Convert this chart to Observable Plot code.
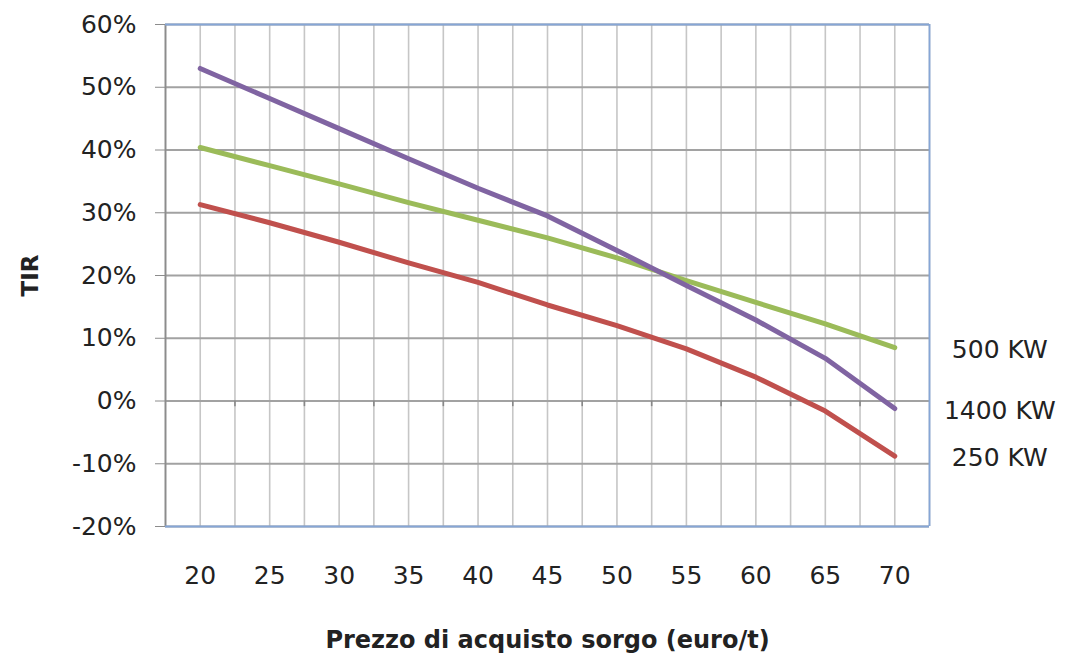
<!DOCTYPE html>
<html>
<head>
<meta charset="utf-8">
<script src="https://cdn.jsdelivr.net/npm/d3@7"></script>
<script src="https://cdn.jsdelivr.net/npm/@observablehq/plot@0.6"></script>
<style>
  html, body { margin: 0; padding: 0; background: #fff; }
</style>
</head>
<body>
<div id="chart"></div>
<script>
// Data (TIR %, by sorghum purchase price euro/t)
const prices = [20, 25, 30, 35, 40, 45, 50, 55, 60, 65, 70];
const kw250  = [31.3, 28.4, 25.3, 22.0, 18.9, 15.3, 12.0, 8.3, 3.8, -1.6, -8.8];
const kw500  = [40.4, 37.5, 34.6, 31.6, 28.8, 26.0, 22.8, 19.2, 15.7, 12.3, 8.5];
const kw1400 = [53.0, 48.2, 43.4, 38.6, 33.9, 29.5, 24.0, 18.4, 12.9, 6.8, -1.2];
const seriesNames = ["250 KW", "500 KW", "1400 KW"];
const seriesColors = ["#C0504D", "#9BBB59", "#8064A2"];
const yTicks = [-20, -10, 0, 10, 20, 30, 40, 50, 60];
const xTicks = [20, 25, 30, 35, 40, 45, 50, 55, 60, 65, 70];
const xGrid = d3.range(17.5, 72.6, 2.5);
const xMinor = d3.range(22.5, 70, 5);
const xTitle = "Prezzo di acquisto sorgo (euro/t)";
const yTitle = "TIR";

const seriesValues = [kw250, kw500, kw1400];
const rows = [];
seriesNames.forEach((name, i) => {
  prices.forEach((p, j) => rows.push({series: name, price: p, tir: seriesValues[i][j]}));
});
const lastRows = seriesNames.map((name, i) => ({series: name, price: prices[prices.length - 1], tir: seriesValues[i][prices.length - 1]}));

const font = "DejaVu Sans";
const chart = Plot.plot({
  width: 1066,
  height: 659,
  marginLeft: 165,
  marginRight: 137,
  marginTop: 24,
  marginBottom: 133,
  style: {fontFamily: font, fontSize: "25px", color: "#222", background: "#fff", overflow: "visible"},
  x: {domain: [17.5, 72.5]},
  y: {domain: [-20, 60]},
  color: {domain: seriesNames, range: seriesColors},
  marks: [
    Plot.ruleX(xGrid, {stroke: "#c6c6c6", strokeWidth: 1.6}),
    Plot.ruleY(yTicks, {stroke: "#a2a2a2", strokeWidth: 1.8}),
    Plot.ruleX(xMinor, {y1: 0, y2: -0.9, stroke: "#888", strokeWidth: 1.6}),
    Plot.ruleX([17.5], {stroke: "#8c8c8c", strokeWidth: 1.8}),
    Plot.ruleY([60, -20], {stroke: "#86a6d6", strokeWidth: 1.8}),
    Plot.ruleX([72.5], {stroke: "#86a6d6", strokeWidth: 1.8}),
    Plot.axisY({ticks: yTicks, tickFormat: d => d + "%", tickSize: 10, tickPadding: 19, stroke: "#8c8c8c", label: null, fontSize: 25}),
    Plot.axisX({ticks: xTicks, tickSize: 0, tickPadding: 40, label: null, fontSize: 25}),
    Plot.line(rows, {x: "price", y: "tir", z: "series", stroke: "series", strokeWidth: 5, strokeLinejoin: "round", strokeLinecap: "round"}),
    Plot.text(lastRows, {x: "price", y: "tir", text: "series", dx: 105, dy: 2, textAnchor: "middle", fontSize: 25, fill: "#222"}),
    Plot.text([xTitle], {frameAnchor: "bottom", dy: 121, fontWeight: "bold", fontSize: 24, fill: "#222"}),
    Plot.text([yTitle], {frameAnchor: "left", dx: -135, rotate: -90, textAnchor: "middle", fontWeight: "bold", fontSize: 23, fill: "#222"})
  ]
});
document.getElementById("chart").appendChild(chart);
</script>
</body>
</html>
